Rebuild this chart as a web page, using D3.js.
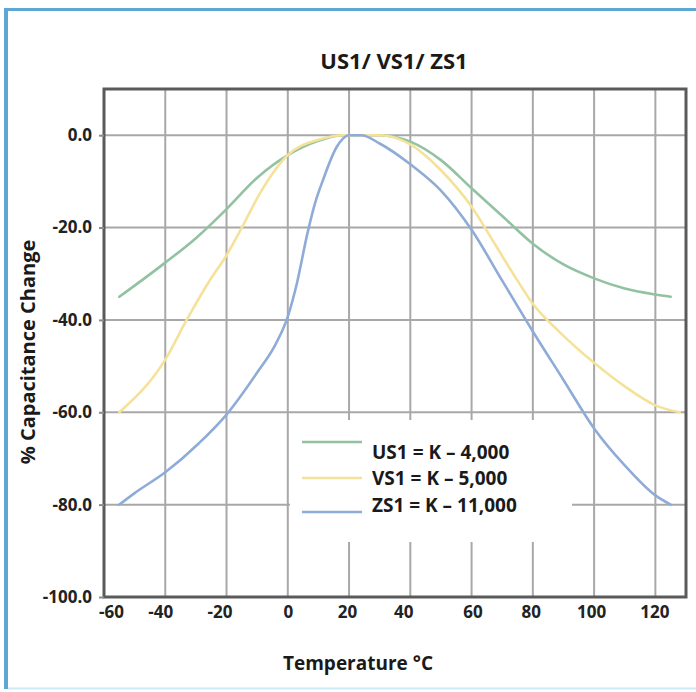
<!DOCTYPE html>
<html><head><meta charset="utf-8">
<script src="https://cdn.jsdelivr.net/npm/d3@7"></script>
<style>body{margin:0;background:#fff;overflow:hidden}</style>
</head><body>
<svg id="c" width="696" height="692"></svg>
<script>
// ---- data ----
const title = "US1/ VS1/ ZS1";
const xLabel = "Temperature °C";
const yLabel = "% Capacitance Change";
const xTicks = [-60, -40, -20, 0, 20, 40, 60, 80, 100, 120];
const yTicks = [0, -20, -40, -60, -80, -100];
const seriesNames = ["US1 = K – 4,000", "VS1 = K – 5,000", "ZS1 = K – 11,000"];
const seriesColors = ["#92c2a1", "#f5e29a", "#8fabd8"];
const us1 = [[-55,-35],[-40,-27.6],[-30,-22.3],[-20,-16],[-10,-9.2],[0,-4.3],[10,-1.2],[18,0],[30,0],[40,-1.4],[50,-5.4],[60,-11.5],[70,-17.5],[80,-23.5],[90,-28],[100,-31],[110,-33.2],[120,-34.5],[125,-35]];
const vs1 = [[-55,-60],[-40,-48.6],[-33,-40],[-26,-32],[-20,-26],[-15,-20],[-9,-12.5],[0,-4.3],[10,-1],[18,0],[30,0],[40,-2],[50,-7.6],[60,-15.5],[68,-24],[75,-31.5],[80,-36.5],[89,-42.8],[100,-49.3],[110,-54.4],[120,-58.5],[128,-60]];
const zs1 = [[-55,-80],[-50,-77.5],[-40,-73],[-29,-66.7],[-20,-60.5],[-10,-51.4],[-4,-45.3],[0,-39.3],[3,-32],[6.5,-21],[9,-14.5],[11.5,-9.7],[16,-2.5],[20,0],[24,0],[30,-1.8],[40,-6.3],[50,-12],[60,-20.5],[70,-31.5],[80,-42.5],[90,-53],[100,-63.5],[110,-71.5],[120,-78],[125,-80]];
const series = [us1, vs1, zs1];

// ---- layout ----
const W = 696, H = 692;
const plot = {l: 104, r: 686, t: 89, b: 597};
const FONT = "'Open Sans', Lato, sans-serif";
const xLabelShift = [7, -5, -7, 0, -2, -7, 1, -2, -3, -1]; // label nudges as in the original picture

const svg = d3.select("#c");
const x = d3.scaleLinear().domain([-60, 130]).range([plot.l, plot.r]);
const y = d3.scaleLinear().domain([-100, 10]).range([plot.b, plot.t]);

// outer border
svg.append("rect").attr("x", 0).attr("y", 0).attr("width", W).attr("height", H).attr("fill", "#fff");
svg.append("line").attr("x1", 6).attr("x2", W).attr("y1", 9.5).attr("y2", 9.5).attr("stroke", "#5da7d4").attr("stroke-width", 3);
svg.append("line").attr("x1", 6).attr("x2", 6).attr("y1", 8).attr("y2", 689).attr("stroke", "#5da7d4").attr("stroke-width", 4);
svg.append("line").attr("x1", 8).attr("x2", W).attr("y1", 688.5).attr("y2", 688.5).attr("stroke", "#cdeaf6").attr("stroke-width", 2);

// gridlines
const g = svg.append("g");
g.selectAll(".vg").data(xTicks.filter(d => d > -60)).join("line")
  .attr("x1", d => x(d)).attr("x2", d => x(d)).attr("y1", plot.t).attr("y2", plot.b)
  .attr("stroke", "#a8a8a8").attr("stroke-width", 2);
g.selectAll(".hg").data(yTicks.filter(d => d > -100)).join("line")
  .attr("x1", plot.l).attr("x2", plot.r).attr("y1", d => y(d)).attr("y2", d => y(d))
  .attr("stroke", "#a8a8a8").attr("stroke-width", 2);

// legend box (white, hides gridlines)
svg.append("rect").attr("x", 290).attr("y", 420).attr("width", 282).attr("height", 122).attr("fill", "#fff");

// curves
const line = d3.line().x(d => x(d[0])).y(d => y(d[1])).curve(d3.curveMonotoneX);
svg.selectAll(".s").data(series).join("path")
  .attr("d", d => line(d)).attr("fill", "none")
  .attr("stroke", (d, i) => seriesColors[i]).attr("stroke-width", 2.6)
  .attr("stroke-linecap", "round");

// frame
svg.append("rect").attr("x", plot.l).attr("y", plot.t).attr("width", plot.r - plot.l).attr("height", plot.b - plot.t)
  .attr("fill", "none").attr("stroke", "#5a5a5a").attr("stroke-width", 3);

// axes
const ya = svg.append("g").attr("transform", `translate(${plot.l},0)`)
  .call(d3.axisLeft(y).tickValues(yTicks).tickFormat(d => d.toFixed(1)).tickSize(5).tickPadding(7));
ya.select(".domain").remove();
ya.selectAll("line").attr("stroke", "#8a8a8a").attr("stroke-width", 2);
ya.selectAll("text").attr("font-family", FONT).attr("font-weight", 700).attr("font-size", 17).attr("fill", "#222");

const xa = svg.append("g").attr("transform", `translate(0,${plot.b})`)
  .call(d3.axisBottom(x).tickValues(xTicks).tickFormat(d => String(d)).tickSize(0).tickPadding(9));
xa.select(".domain").remove();
xa.selectAll("text").attr("font-family", FONT).attr("font-weight", 700).attr("font-size", 17).attr("fill", "#222")
  .attr("dx", (d, i) => xLabelShift[i]);

// titles
svg.append("text").attr("x", 394).attr("y", 69).attr("text-anchor", "middle")
  .attr("font-family", FONT).attr("font-weight", 700).attr("font-size", 22).attr("fill", "#1a1a1a").text(title);
svg.append("text").attr("x", 358).attr("y", 670).attr("text-anchor", "middle")
  .attr("font-family", FONT).attr("font-weight", 700).attr("font-size", 19).attr("fill", "#1a1a1a").text(xLabel);
svg.append("text").attr("transform", "translate(35,352) rotate(-90)").attr("text-anchor", "middle")
  .attr("font-family", FONT).attr("font-weight", 700).attr("font-size", 20).attr("fill", "#1a1a1a").text(yLabel);

// legend
const legY = [442, 478, 512];
const legTY = [452, 478, 505];
const lg = svg.append("g");
seriesNames.forEach((n, i) => {
  lg.append("line").attr("x1", 302).attr("x2", 362).attr("y1", legY[i]).attr("y2", legY[i])
    .attr("stroke", seriesColors[i]).attr("stroke-width", 2.6);
  lg.append("text").attr("x", 372).attr("y", legTY[i]).attr("dy", "0.35em")
    .attr("font-family", FONT).attr("font-weight", 700).attr("font-size", 19).attr("fill", "#1a1a1a").text(n);
});
</script>
</body></html>
